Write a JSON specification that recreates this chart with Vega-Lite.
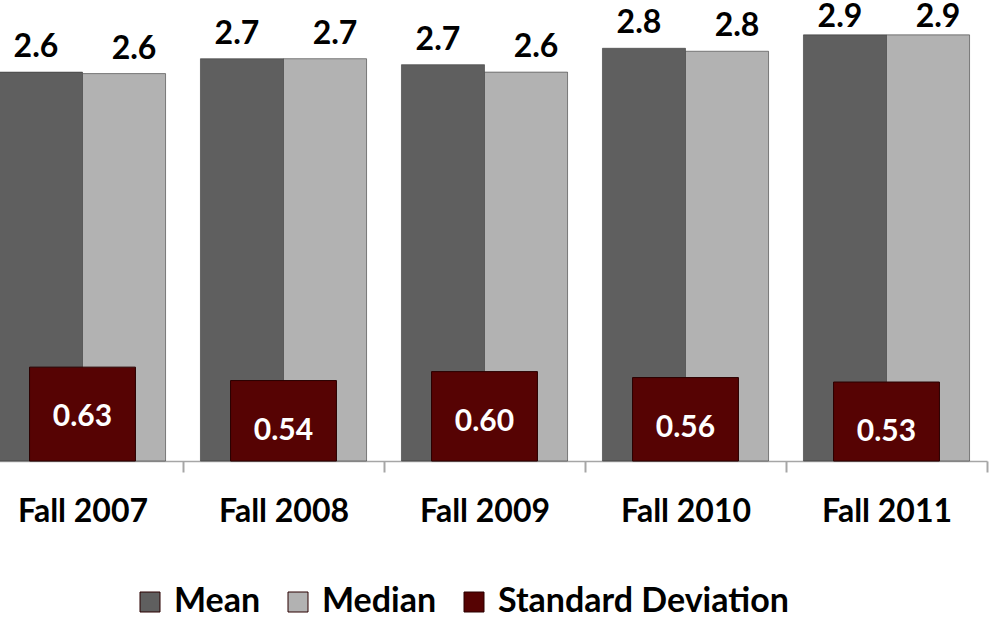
{
  "$schema": "https://vega.github.io/schema/vega-lite/v6.json",
  "autosize": {"type": "none"},
  "padding": {"left": -18, "top": 0, "right": 3, "bottom": 159},
  "width": 1005,
  "height": 461,
  "background": "white",
  "config": {"view": {"stroke": null}, "font": "Lato"},
  "data": {"values": [
    {"year": "Fall 2007", "series": "Mean", "value": 2.61},
    {"year": "Fall 2007", "series": "Median", "value": 2.6},
    {"year": "Fall 2007", "series": "Standard Deviation", "value": 0.63},
    {"year": "Fall 2008", "series": "Mean", "value": 2.7},
    {"year": "Fall 2008", "series": "Median", "value": 2.7},
    {"year": "Fall 2008", "series": "Standard Deviation", "value": 0.54},
    {"year": "Fall 2009", "series": "Mean", "value": 2.66},
    {"year": "Fall 2009", "series": "Median", "value": 2.61},
    {"year": "Fall 2009", "series": "Standard Deviation", "value": 0.6},
    {"year": "Fall 2010", "series": "Mean", "value": 2.77},
    {"year": "Fall 2010", "series": "Median", "value": 2.75},
    {"year": "Fall 2010", "series": "Standard Deviation", "value": 0.56},
    {"year": "Fall 2011", "series": "Mean", "value": 2.86},
    {"year": "Fall 2011", "series": "Median", "value": 2.86},
    {"year": "Fall 2011", "series": "Standard Deviation", "value": 0.53}
  ]},
  "encoding": {
    "x": {"field": "year", "type": "nominal", "sort": null,
      "scale": {"paddingInner": 0, "paddingOuter": 0},
      "axis": {"title": null, "labelAngle": 0, "labelFont": "Lato", "labelFontSize": 32, "labelFontWeight": "bold", "labelColor": "#000000",
        "tickBand": "extent", "tickSize": 11, "tickWidth": 2, "tickColor": "#a6a6a6", "domainColor": "#a6a6a6", "domainWidth": 1.5, "labelPadding": 24}},
    "y": {"field": "value", "type": "quantitative", "scale": {"domain": [0, 3.094], "nice": false, "zero": true}, "axis": null}
  },
  "resolve": {"scale": {"y": "independent"}},
  "layer": [
    {
      "transform": [{"filter": "datum.series !== 'Standard Deviation'"}],
      "mark": {"type": "bar", "stroke": "#3a3a3a", "strokeWidth": 1, "strokeOpacity": 0.6},
      "encoding": {
        "xOffset": {"field": "series", "type": "nominal", "scale": {"paddingInner": 0, "paddingOuter": 0.21}},
        "color": {"field": "series", "type": "nominal",
          "scale": {"domain": ["Mean", "Median", "Standard Deviation"], "range": ["#5f5f5f", "#b2b2b2", "#560303"]},
          "legend": {"title": null, "orient": "none", "legendX": 151, "legendY": 585, "direction": "horizontal",
            "symbolType": "square", "symbolSize": 400, "symbolStrokeColor": "#333333", "symbolStrokeWidth": 1, "symbolOpacity": 1,
            "labelFont": "Lato", "labelFontSize": 34, "labelFontWeight": "bold", "labelColor": "#000000", "columnPadding": 20, "symbolOffset": 0, "labelOffset": 7, "labelLimit": 400}}
      }
    },
    {
      "transform": [{"filter": "datum.series === 'Mean'"}],
      "mark": {"type": "text", "baseline": "bottom", "dy": -8, "dx": -5, "font": "Lato", "fontSize": 32, "fontWeight": "bold", "color": "#000000"},
      "encoding": {
        "xOffset": {"field": "series", "type": "nominal", "scale": {"domain": ["Mean", "Median"], "paddingInner": 0, "paddingOuter": 0.21}},
        "y": {"field": "value", "type": "quantitative", "axis": null, "scale": {"domain": [0, 2.8, 2.86], "range": [461, 43.8, 42], "nice": false, "zero": false}},
        "text": {"field": "value", "type": "quantitative", "format": ".1f"}
      }
    },
    {
      "transform": [{"filter": "datum.series === 'Median'"}],
      "mark": {"type": "text", "baseline": "bottom", "dy": -8, "dx": 10, "font": "Lato", "fontSize": 32, "fontWeight": "bold", "color": "#000000"},
      "encoding": {
        "xOffset": {"field": "series", "type": "nominal", "scale": {"domain": ["Mean", "Median"], "paddingInner": 0, "paddingOuter": 0.21}},
        "y": {"field": "value", "type": "quantitative", "axis": null, "scale": {"domain": [0, 2.8, 2.86], "range": [461, 43.8, 42], "nice": false, "zero": false}},
        "text": {"field": "value", "type": "quantitative", "format": ".1f"}
      }
    },
    {
      "transform": [{"filter": "datum.series === 'Standard Deviation'"}],
      "mark": {"type": "bar", "width": {"band": 0.527}, "stroke": "#2a0000", "strokeWidth": 1},
      "encoding": {
        "color": {"field": "series", "type": "nominal"}
      }
    },
    {
      "transform": [{"filter": "datum.series === 'Standard Deviation'"}],
      "mark": {"type": "text", "baseline": "top", "dy": 35, "font": "Lato", "fontSize": 30, "fontWeight": "bold", "color": "#ffffff"},
      "encoding": {
        "text": {"field": "value", "type": "quantitative", "format": ".2f"}
      }
    }
  ]
}
